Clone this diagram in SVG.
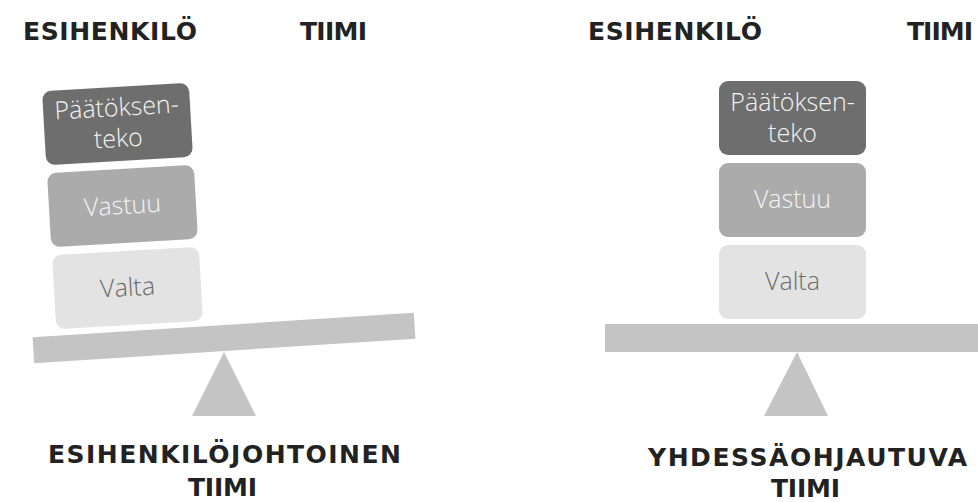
<svg xmlns="http://www.w3.org/2000/svg" width="978" height="502" viewBox="0 0 978 502">
<style>
.h{font-family:"DejaVu Sans","Open Sans",sans-serif;font-weight:bold;font-size:25px;fill:#222;}
.b{font-family:"Open Sans","Liberation Sans",sans-serif;font-weight:300;font-size:25px;text-anchor:middle;}
.d{fill:#6e6e6e;}
.m{fill:#ababab;}
.l{fill:#e3e3e3;}
.g{fill:#c4c4c4;}
.w{fill:#f4f4f4;}
.k{fill:#6a6a6a;}
</style>
<rect width="978" height="502" fill="#fff"/>
<g id="left-headings">
<text class="h" x="23" y="40" textLength="174" lengthAdjust="spacing">ESIHENKILÖ</text>
<text class="h" x="300" y="40" textLength="67" lengthAdjust="spacing">TIIMI</text>
</g>
<g id="left-scale">
<rect class="g" x="33" y="325" width="382" height="26" transform="rotate(-3.7 224 338)"/>
<polygon class="g" points="224,352 192,416 256,416"/>
</g>
<g id="left-paatoksenteko" transform="rotate(-3.3 117.5 124)">
<rect class="d" x="44" y="87" width="147" height="74" rx="9"/>
<text class="b w" x="117.5" y="116">Päätöksen-</text>
<text class="b w" x="117.5" y="147">teko</text>
</g>
<g id="left-vastuu" transform="rotate(-3.3 122.5 206)">
<rect class="m" x="49" y="169" width="147" height="74" rx="9"/>
<text class="b w" x="122.5" y="214">Vastuu</text>
</g>
<g id="left-valta" transform="rotate(-3.3 127.5 288)">
<rect class="l" x="54" y="251" width="147" height="74" rx="9"/>
<text class="b k" x="127.5" y="296">Valta</text>
</g>
<g id="left-title">
<text class="h" x="48" y="463" textLength="353" lengthAdjust="spacing">ESIHENKILÖJOHTOINEN</text>
<text class="h" x="188" y="496" textLength="69" lengthAdjust="spacing">TIIMI</text>
</g>
<g id="right-headings">
<text class="h" x="588" y="40" textLength="174" lengthAdjust="spacing">ESIHENKILÖ</text>
<text class="h" x="907" y="40" textLength="66" lengthAdjust="spacing">TIIMI</text>
</g>
<g id="right-scale">
<rect class="g" x="605" y="324" width="380" height="28"/>
<polygon class="g" points="797,352 764,416 828,416"/>
</g>
<g id="right-paatoksenteko">
<rect class="d" x="719" y="81" width="147" height="74" rx="9"/>
<text class="b w" x="792.5" y="111">Päätöksen-</text>
<text class="b w" x="792.5" y="142">teko</text>
</g>
<g id="right-vastuu">
<rect class="m" x="719" y="163" width="147" height="74" rx="9"/>
<text class="b w" x="792.5" y="208">Vastuu</text>
</g>
<g id="right-valta">
<rect class="l" x="719" y="245" width="147" height="74" rx="9"/>
<text class="b k" x="792.5" y="290">Valta</text>
</g>
<g id="right-title">
<text class="h" x="648" y="466" textLength="319" lengthAdjust="spacing">YHDESSÄOHJAUTUVA</text>
<text class="h" x="771" y="497" textLength="69" lengthAdjust="spacing">TIIMI</text>
</g>
<g id="connectors"></g>
</svg>
